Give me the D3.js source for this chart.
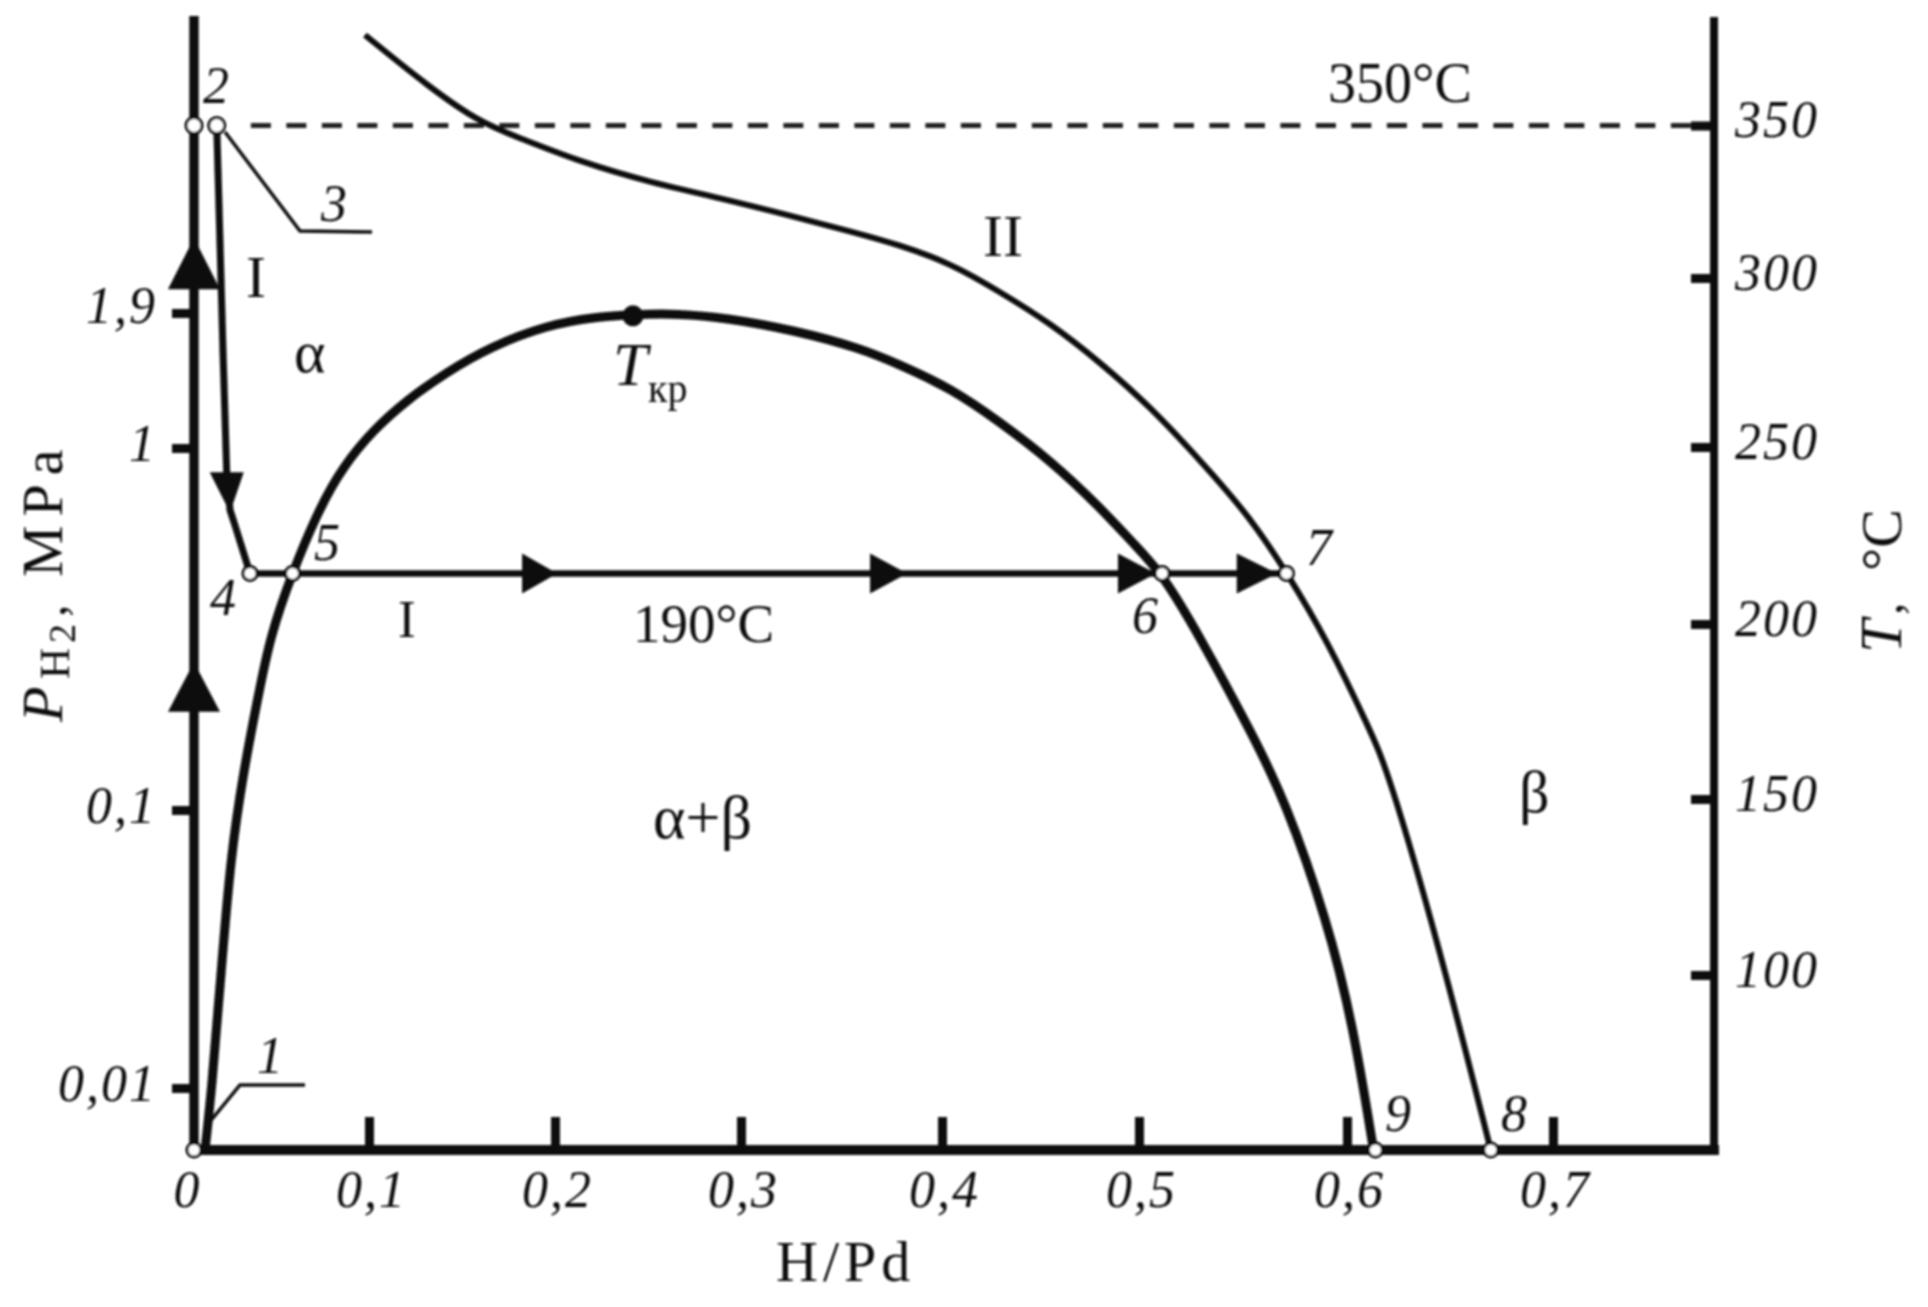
<!DOCTYPE html>
<html><head><meta charset="utf-8">
<script src="https://cdnjs.cloudflare.com/ajax/libs/d3/7.8.5/d3.min.js"></script>
<style>
html,body{margin:0;padding:0;background:#fff}
svg{display:block}
text{font-family:"Liberation Serif",serif;fill:#111}
</style></head><body>
<svg id="c" width="1928" height="1307"></svg>
<script>
// ---- data (H/Pd, T in °C) ----
const xTicks = [0.1,0.2,0.3,0.4,0.5,0.6,0.7];
const tTicks = [350,300,250,200,150,100];
const pTicks = [0.01,0.1,1,1.9];
const domeX = [.0063,.0103,.0149,.0211,.0297,.0366,.0434,.0560,.072,.0851,.1022,.1204,.1419,.1651,.1957,.2226,.2419,.2656,.2925,.3259,.3592,.3791,.4041,.4294,.4548,.4802,.4970,.5111,.5293,.5534,.5702,.5904,.6029,.6129];
const domeT = [50,68.3,97.1,135.2,161.7,179.1,196.3,214.4,233.1,244.4,255,263.9,272.2,279.6,286.1,288.5,289.2,289.5,288.2,284.6,279.3,274.3,267.5,257.4,246.3,233,222.8,214.3,196.3,169.7,149.7,115.6,86,50];
const outerX = [.0977,.1274,.1586,.1812,.2134,.2527,.2887,.3229,.3557,.3791,.4041,.4294,.4548,.4802,.5056,.5293,.5534,.5712,.5904,.6112,.6199,.6442,.6698];
const outerT = [379.2,364.7,351.1,345.9,338.1,331.1,326.2,320.7,315.1,310.8,304.9,295.9,286.7,275.1,261.8,246.3,230.2,214.4,195.4,169.7,158,109.4,50];
const descentX = [.013,.0166,.0187,.0206,.0234,.032];
const descentT = [350,277.8,242.7,232.2,227.9,214.3];
const isothermT = 214.3;
const isothermX = [.032,.5709];
const dashT = 350;
const openX = [0,.013,.032,.0563,.5111,.5709,.6138,.6698,0];
const openT = [350,350,214.3,214.3,214.3,214.3,50,50,50];
const critX = .2419, critT = 288.8;
const arrowBaseX = [.1823,.3642,.4893,.547];
const arrowTipX = [.2011,.3826,.5081,.5664];
const upApexT = [313.1,189.1];
const upBaseT = [296.7,174.9];
const downBase = [.0187,242.9];
const downTip = [.0206,231.5];

// ---- scales: the printed axes are not evenly spaced ----
const x = d3.scaleLinear().domain([0,.1,.2,.3,.4,.5,.6,.7,.78]).range([194,369,555,741,942,1139,1347,1553,1716]);
const y = d3.scaleLinear().domain([385,350,300,250,200,150,100,50]).range([17,125.5,278,447,624,799,975,1150]);
const yP = d3.scaleLinear().domain([0,.01,.1,1,1.9,3]).range([1150,1088,810,448,313,16]);

const INK = "#0b0b0b";
const svg = d3.select("#c");
const defs = svg.append("defs");
defs.append("filter").attr("id","soft").attr("x","-5%").attr("y","-5%").attr("width","110%").attr("height","110%")
  .append("feGaussianBlur").attr("stdDeviation",0.8);
const g = svg.append("g").attr("filter","url(#soft)");
const comma = v => String(v).replace(".",",");

// axes
const left = g.append("g").attr("transform",`translate(${x(0)},0)`)
  .call(d3.axisLeft(yP).tickValues(pTicks).tickSize(22).tickFormat(comma));
const bottom = g.append("g").attr("transform",`translate(0,${y(50)})`)
  .call(d3.axisBottom(x).tickValues([0,...xTicks]).tickSize(-33).tickFormat(comma));
const right = g.append("g").attr("transform",`translate(${x(.78)-2},0)`)
  .call(d3.axisRight(y).tickValues(tTicks).tickSize(-23).tickFormat(d=>d));
[left,bottom,right].forEach(a=>{a.selectAll(".domain").remove();a.selectAll("line").attr("stroke",INK).attr("stroke-width",9);});
bottom.selectAll(".tick").filter(d=>d===0).select("line").remove();
const tickFont = sel => sel.attr("font-family",null).style("font-style","italic").style("font-size","52px").style("letter-spacing","2px");
left.selectAll("text").call(tickFont).attr("x",-37).attr("dy",null)
  .attr("y",d=>d===1.9?9:12).style("text-anchor","end");
bottom.selectAll("text").call(tickFont).attr("y",57).attr("dy",null)
  .attr("x",d=>d===0?-7:2);
right.selectAll("text").call(tickFont).attr("x",21).attr("dy",null).attr("y",11).style("text-anchor","start");

const rule = (x1,y1,x2,y2,w)=>g.append("line").attr("x1",x1).attr("y1",y1).attr("x2",x2).attr("y2",y2).attr("stroke",INK).attr("stroke-width",w);
rule(x(0),16,x(0),y(50),9.5);
rule(x(0),y(50),x(.78)+3,y(50),10);
rule(x(.78)-2,17,x(.78)-2,y(50),8);

// dashed isotherm
g.append("line").attr("x1",x(.0325)).attr("x2",x(.78)-22).attr("y1",y(dashT)).attr("y2",y(dashT))
  .attr("stroke","#222").attr("stroke-width",5).attr("stroke-dasharray","20 15.5");

// curves
const line = d3.line().x(d=>x(d[0])).y(d=>y(d[1])).curve(d3.curveBasis);
g.append("path").attr("d",line(d3.zip(domeX,domeT))).attr("fill","none").attr("stroke",INK).attr("stroke-width",9);
g.append("path").attr("d",line(d3.zip(outerX,outerT))).attr("fill","none").attr("stroke",INK).attr("stroke-width",6);
g.append("path").attr("d",d3.line().x(d=>x(d[0])).y(d=>y(d[1]))(d3.zip(descentX,descentT))).attr("fill","none").attr("stroke",INK).attr("stroke-width",7);
g.append("line").attr("x1",x(isothermX[0])).attr("x2",x(isothermX[1])).attr("y1",y(isothermT)).attr("y2",y(isothermT)).attr("stroke",INK).attr("stroke-width",6.5);

// leader lines
const leader = d3.line();
g.append("path").attr("d",leader([[225,132],[300,231],[372,232]])).attr("fill","none").attr("stroke",INK).attr("stroke-width",3.5);
g.append("path").attr("d",leader([[208,1124],[240,1085],[305,1085]])).attr("fill","none").attr("stroke",INK).attr("stroke-width",3.5);

// arrowheads
const tri = pts => "M"+pts.map(p=>p.join(",")).join("L")+"Z";
d3.zip(arrowBaseX,arrowTipX).forEach(([b,t])=>{
  g.append("path").attr("fill",INK).attr("d",tri([[x(b),y(isothermT)-20],[x(t),y(isothermT)],[x(b),y(isothermT)+20]]));
});
d3.zip(upApexT,upBaseT).forEach(([a,b])=>{
  g.append("path").attr("fill",INK).attr("d",tri([[x(0)-26,y(b)],[x(0),y(a)],[x(0)+26,y(b)]]));
});
g.append("path").attr("fill",INK).attr("d",tri([[x(downBase[0])-17,y(downBase[1])],[x(downTip[0]),y(downTip[1])],[x(downBase[0])+17,y(downBase[1])]]));

// points
g.selectAll("circle.o").data(d3.zip(openX,openT)).join("circle").attr("class","o")
  .attr("cx",d=>x(d[0])).attr("cy",d=>y(d[1])).attr("r",(d,i)=>i<2?8:7).attr("fill","#fff").attr("stroke",INK).attr("stroke-width",3);
g.append("circle").attr("cx",x(critX)).attr("cy",y(critT)).attr("r",10.5).attr("fill",INK);

// labels
const txt = (s,px,py,size,opt={})=>{
  const t = g.append("text").attr("x",px).attr("y",py).text(s).style("font-size",size+"px");
  if(opt.i) t.style("font-style","italic");
  if(opt.a) t.style("text-anchor",opt.a);
  if(opt.ls) t.style("letter-spacing",opt.ls+"px");
  if(opt.r) t.attr("transform",`rotate(-90 ${px} ${py})`);
  return t;
};
[["2",203,103],["3",321,221],["4",210,615],["5",314,560],["6",1132,633],["7",1306,565],["9",1385,1131],["8",1501,1131],["1",257,1073]]
  .forEach(d=>txt(d[0],d[1],d[2],52,{i:1}));
txt("I",246,297,60);
txt("I",398,637,53);
txt("II",983,256,60);
txt("α",294,372,60);
txt("β",1519,812,60);
txt("α+β",653,838,62);
txt("350°C",1328,102,56);
txt("190°C",633,642,55);
txt("T",613,385,62,{i:1});
txt("кр",648,402,40);
txt("H/Pd",776,1281,58,{ls:5});
// rotated titles
txt("P",62,722,58,{i:1,r:1});
txt("H",69,679,43,{r:1});
txt("2",75,643,38,{r:1});
txt(",",65,617,50,{r:1});
txt("MPa",62,577,58,{r:1,ls:9});
txt("T",1901,653,60,{i:1,r:1});
txt(",",1901,615,50,{r:1});
txt("°C",1901,571,58,{r:1});
</script>
</body></html>
